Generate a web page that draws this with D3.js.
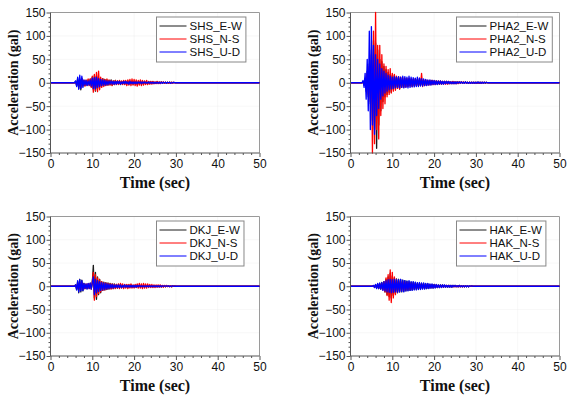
<!DOCTYPE html>
<html><head><meta charset="utf-8">
<script src="https://cdn.jsdelivr.net/npm/d3@7"></script>
<style>body{margin:0;background:#fff}svg{display:block}</style>
</head><body><div id="chart"></div>
<script>
// ---------- data ----------
const stations = ["SHS", "PHA2", "DKJ", "HAK"];
const components = ["E-W", "N-S", "U-D"];
const xTicks = [0, 10, 20, 30, 40, 50];
const yTicks = [-150, -100, -50, 0, 50, 100, 150];
const timeRange = [0, 50];
const sampleStep = 0.25;              // seconds between samples
const onsetTimes = [6, 3, 6, 5.5];    // first sample time per station

const shs_ew = [3,-6,9,-12,8,-15,10,-7, 5,-6,4,-5,6,-4,7,-8, 12,-14,15,-18,14,-12,10,-9, 8,-7,9,-6,7,-5,6,-5,
  5,-4,6,-5,4,-4,5,-3, 4,-3,4,-4,3,-3,4,-3, 3,-3,4,-3,3,-2,3,-3, 3,-2,3,-3,2,-2,3,-2,
  2,-2,3,-2,2,-2,2,-2, 2,-1,2,-2,1,-1,2,-1, 1,-1,2,-1,1,-1,1,-1, 1,-1,1,-1,1,0,1,0];
const shs_ns = [1,-3,5,-7,6,-9,8,-6, 5,-7,6,-5,8,-6,9,-10, 14,-20,18,-16,22,-19,25,-15, 12,-10,9,-8,7,-6,8,-5,
  6,-5,5,-6,4,-4,5,-4, 4,-4,5,-3,4,-4,5,-4, 5,-6,6,-5,7,-6,8,-5, 7,-6,6,-7,5,-5,6,-6,
  5,-5,4,-4,5,-4,3,-3, 3,-3,3,-2,2,-2,3,-2, 2,-2,2,-1,2,-1,1,-1, 1,-1,1,-1,1,-1,1,0];
const shs_ud = [4,-8,12,-14,16,-12,14,-10, 6,-5,5,-6,4,-5,6,-7, 10,-12,11,-13,12,-10,9,-8, 7,-6,6,-5,5,-5,4,-4,
  4,-3,4,-3,3,-3,3,-3, 3,-2,3,-3,2,-2,3,-2, 3,-2,2,-3,3,-2,2,-2, 2,-2,2,-2,2,-1,2,-2,
  2,-1,2,-1,1,-1,2,-1, 1,-1,1,-1,1,-1,1,-1, 1,-1,1,-1,1,0,1,-1, 1,0,1,-1,0,0,1,0];

const pha2_ew = [2,-5,10,-18,25,-30,40,-45, 60,-80,90,-100,85,-140,70,-90, 50,-60,45,-40,35,-30,28,-25,
  22,-20,18,-20,15,-14,16,-12, 12,-10,11,-12,10,-9,8,-9, 9,-8,8,-7,8,-6,7,-7, 7,-6,8,-6,7,-6,6,-5,
  6,-5,5,-5,5,-4,4,-4, 4,-4,5,-3,4,-3,4,-3, 3,-3,3,-3,3,-2,3,-2, 3,-2,2,-2,2,-2,2,-2,
  2,-2,2,-1,2,-1,2,-1, 1,-1,2,-1,1,-1,1,-1, 1,-1,1,-1,1,-1,1,-1, 1,-1,1,0,1,-1,1,0];
const pha2_ns = [1,-4,8,-12,20,-25,35,-40, 70,-150,110,-130,150,-100,80,-120, 80,-70,60,-55,40,-45,35,-30,
  28,-25,30,-22,20,-18,18,-16, 14,-12,13,-14,12,-10,11,-10, 10,-9,9,-8,10,-7,9,-8, 8,-7,9,-6,8,-7,10,-6,
  20,-8,7,-6,6,-5,5,-5, 5,-4,5,-4,4,-4,4,-3, 4,-3,4,-3,3,-3,3,-3, 3,-3,3,-2,2,-2,3,-2,
  2,-2,2,-2,2,-1,2,-1, 2,-1,1,-1,1,-1,1,-1, 1,-1,1,-1,1,-1,1,-1, 1,-1,1,-1,1,0,1,0];
const pha2_ud = [5,-10,20,-35,50,-60,110,-100, 120,-90,80,-110,60,-70,50,-55, 40,-35,30,-28,25,-22,20,-18,
  16,-15,14,-13,12,-12,13,-11, 12,-10,13,-11,12,-10,14,-11, 13,-10,12,-11,14,-10,12,-9, 11,-9,10,-8,12,-8,10,-7,
  9,-7,8,-6,7,-6,6,-5, 6,-5,5,-4,5,-4,4,-4, 4,-3,4,-3,3,-3,3,-2, 3,-2,3,-2,2,-2,2,-2,
  2,-2,2,-1,2,-1,2,-1, 1,-1,2,-1,1,-1,1,-1, 1,-1,1,-1,1,-1,2,-1, 1,-1,1,-1,1,0,1,0];

const dkj_ew = [3,-7,10,-14,15,-12,13,-10, 6,-5,4,-5,5,-4,6,-5, 8,45,-25,30,-28,20,-18,15, -14,10,-9,9,-8,8,-7,7,
  -6,6,-5,5,-5,5,-4,4, -4,4,-3,4,-3,3,-3,3, -3,3,-3,3,-2,3,-2,2, -2,2,-2,3,-2,2,-2,2,
  -2,2,-2,2,-1,2,-1,2, -1,1,-1,2,-1,1,-1,1, -1,1,-1,1,-1,1,-1,1, 0,1,0,1,-1,1,0,1];
const dkj_ns = [2,-4,6,-8,8,-7,8,-6, 4,-5,5,-4,5,-5,6,-6, 10,30,-30,25,-22,18,-16,14, -12,10,-9,8,-8,7,-6,6,
  -5,5,-6,5,-5,4,-5,4, -4,5,-5,6,-4,5,-5,4, -4,4,-5,4,-4,5,-4,3, -4,4,-3,5,-4,6,-4,5,
  -5,6,-4,5,-4,5,-3,4, -3,4,-3,3,-3,3,-2,3, -2,3,-2,2,-2,2,-1,2, -1,1,-1,1,-1,1,0,1];
const dkj_ud = [3,-8,12,-12,14,-10,12,-9, 6,-5,5,-6,6,-5,7,-6, 8,20,-18,15,-14,12,-11,10, -9,8,-8,7,-7,6,-6,5,
  -5,4,-4,4,-4,3,-3,3, -3,3,-3,3,-3,2,-2,3, -2,2,-2,2,-2,2,-2,2, -2,2,-2,2,-1,2,-1,1,
  -1,1,-1,1,-1,1,-1,1, -1,1,-1,1,-1,1,-1,1, -1,1,-1,1,0,1,0,1, 0,1,-1,0,0,1,0,0];

const hak_ew = [1,-2,3,-4,5,-5,6,-6, 8,-7,10,-12,15,-18,20,-22, 28,-25,22,-20,18,-15,16,-14, 15,-12,14,-12,13,-11,12,-10,
  11,-9,10,-9,9,-8,9,-7, 8,-7,7,-6,7,-6,6,-5, 6,-5,5,-5,5,-4,4,-4, 4,-4,4,-3,3,-3,3,-3,
  3,-2,3,-2,2,-2,2,-2, 2,-2,2,-2,2,-1,2,-1, 1,-1,2,-1,1,-1,1,-1, 1,-1,1,-1,1,0,1,0];
const hak_ns = [1,-2,3,-3,4,-4,5,-5, 6,-8,10,-12,18,-20,25,-30, 35,-35,30,-25,20,-18,15,-12, 12,-10,11,-9,10,-9,9,-8,
  8,-7,8,-6,7,-6,6,-5, 6,-5,5,-5,5,-4,5,-4, 4,-4,4,-3,4,-3,3,-3, 3,-3,3,-2,3,-2,2,-2,
  2,-2,2,-2,2,-1,2,-1, 2,-1,1,-1,1,-1,1,-1, 1,-1,1,-1,1,-1,1,-1, 1,0,1,-1,0,0,1,0];
const hak_ud = [2,-3,4,-5,6,-5,7,-6, 8,-9,10,-10,12,-12,14,-13, 15,-14,14,-13,15,-12,14,-13, 14,-12,15,-11,13,-12,12,-10,
  11,-10,12,-9,10,-9,10,-8, 9,-8,8,-7,8,-7,7,-6, 7,-6,6,-5,6,-5,5,-4, 5,-4,4,-4,4,-3,3,-3,
  3,-3,3,-2,3,-2,2,-2, 2,-2,2,-2,2,-1,2,-1, 1,-1,2,-1,1,-1,1,-1, 1,-1,1,-1,1,0,1,0];

const stationSeries = [
  [shs_ew, shs_ns, shs_ud],
  [pha2_ew, pha2_ns, pha2_ud],
  [dkj_ew, dkj_ns, dkj_ud],
  [hak_ew, hak_ns, hak_ud]
];

// ---------- styles / layout ----------
const W = 575, H = 403;
const lineColors = ["#1a1a1a", "#ff0000", "#0000ff"];
const panelBoxes = [
  {left: 50.5, top: 12.5, right: 259.5, bottom: 153},
  {left: 350.5, top: 12.5, right: 559.5, bottom: 153},
  {left: 50.5, top: 216.5, right: 259.5, bottom: 356},
  {left: 350.5, top: 216.5, right: 559.5, bottom: 356}
];

const svg = d3.select("#chart").append("svg").attr("width", W).attr("height", H)
  .style("background", "#fff");

stations.forEach((st, pi) => {
  const b = panelBoxes[pi];
  const x = d3.scaleLinear().domain(timeRange).range([b.left, b.right]);
  const y = d3.scaleLinear().domain([-150, 150]).range([b.bottom, b.top]);
  const g = svg.append("g");

  // grid
  g.selectAll(null).data(xTicks.slice(1, -1)).enter().append("line")
    .attr("x1", d => x(d)).attr("x2", d => x(d)).attr("y1", b.top).attr("y2", b.bottom)
    .attr("stroke", "#ececec").attr("stroke-width", 0.8).attr("stroke-dasharray", "1,1");
  g.selectAll(null).data(yTicks.slice(1, -1)).enter().append("line")
    .attr("y1", d => y(d)).attr("y2", d => y(d)).attr("x1", b.left).attr("x2", b.right)
    .attr("stroke", "#ececec").attr("stroke-width", 0.8).attr("stroke-dasharray", "1,1");

  // top/right frame
  g.append("path")
    .attr("d", `M${b.left},${b.top}H${b.right}V${b.bottom}`)
    .attr("fill", "none").attr("stroke", "#9a9a9a").attr("stroke-width", 1);

  // series
  const line = d3.line().x(d => x(d[0])).y(d => y(d[1]));
  const t0 = onsetTimes[pi];
  stationSeries[pi].forEach((vals, si) => {
    const pts = [[timeRange[0], 0], [t0 - sampleStep, 0]];
    vals.forEach((v, i) => pts.push([t0 + i * sampleStep, v]));
    pts.push([t0 + vals.length * sampleStep, 0]);
    pts.push([timeRange[1], 0]);
    g.append("path").datum(pts).attr("d", line)
      .attr("fill", "none").attr("stroke", lineColors[si]).attr("stroke-width", 1.3)
      .attr("stroke-linejoin", "round");
  });

  // axes
  const xAxis = d3.axisBottom(x).tickValues(xTicks).tickSize(4).tickPadding(2);
  const xMinor = d3.axisBottom(x).tickValues(d3.range(0, 51, 2).filter(v => v % 10 !== 0)).tickSize(2).tickFormat("");
  const yAxis = d3.axisLeft(y).tickValues(yTicks).tickSize(4).tickPadding(1);
  const yMinor = d3.axisLeft(y).tickValues(d3.range(-150, 151, 10).filter(v => v % 50 !== 0)).tickSize(2).tickFormat("");

  const styleAxis = sel => {
    sel.selectAll("path.domain").attr("stroke", "#555");
    sel.selectAll(".tick line").attr("stroke", "#555");
    sel.selectAll("text").attr("fill", "#111").style("font-family", "Arial, 'Liberation Sans', sans-serif")
      .style("font-size", "12px");
  };
  g.append("g").attr("transform", `translate(0,${b.bottom})`).call(xMinor).call(styleAxis)
    .select("path.domain").remove();
  g.append("g").attr("transform", `translate(${b.left},0)`).call(yMinor).call(styleAxis)
    .select("path.domain").remove();
  g.append("g").attr("transform", `translate(0,${b.bottom})`).call(xAxis).call(styleAxis)
    .call(s => s.select("path.domain").attr("d", `M${b.left},0H${b.right}`));
  g.append("g").attr("transform", `translate(${b.left},0)`).call(yAxis).call(styleAxis)
    .call(s => s.select("path.domain").attr("d", `M0,${b.top}V${b.bottom}`));

  // axis titles
  g.append("text").attr("x", (b.left + b.right) / 2).attr("y", b.bottom + 35)
    .attr("text-anchor", "middle")
    .style("font-family", "'Times New Roman', 'Liberation Serif', serif")
    .style("font-weight", "bold").style("font-size", "16px").attr("fill", "#111")
    .text("Time (sec)");
  g.append("text")
    .attr("transform", `translate(${b.left - 33},${(b.top + b.bottom) / 2}) rotate(-90)`)
    .attr("text-anchor", "middle")
    .style("font-family", "'Times New Roman', 'Liberation Serif', serif")
    .style("font-weight", "bold").style("font-size", "14px").attr("fill", "#111")
    .text("Acceleration (gal)");

  // legend
  const lg = g.append("g");
  const lx = b.left + 106, ly = b.top + 4.5;
  const labels = components.map(c => `${st}_${c}`);
  const texts = lg.selectAll("text").data(labels).enter().append("text")
    .attr("x", lx + 33).attr("y", (d, i) => ly + 13 + i * 13)
    .style("font-family", "Arial, 'Liberation Sans', sans-serif").style("font-size", "11.5px")
    .attr("fill", "#111").text(d => d);
  let maxW = 0;
  texts.each(function () { maxW = Math.max(maxW, this.getComputedTextLength()); });
  lg.insert("rect", "text").attr("x", lx).attr("y", ly).attr("width", 33 + maxW + 4).attr("height", 45)
    .attr("fill", "#fff").attr("stroke", "#888").attr("stroke-width", 1);
  lg.selectAll("line").data(labels).enter().append("line")
    .attr("x1", lx + 3).attr("x2", lx + 30)
    .attr("y1", (d, i) => ly + 9 + i * 13).attr("y2", (d, i) => ly + 9 + i * 13)
    .attr("stroke", (d, i) => lineColors[i]).attr("stroke-width", 1);
});
</script>
</body></html>
